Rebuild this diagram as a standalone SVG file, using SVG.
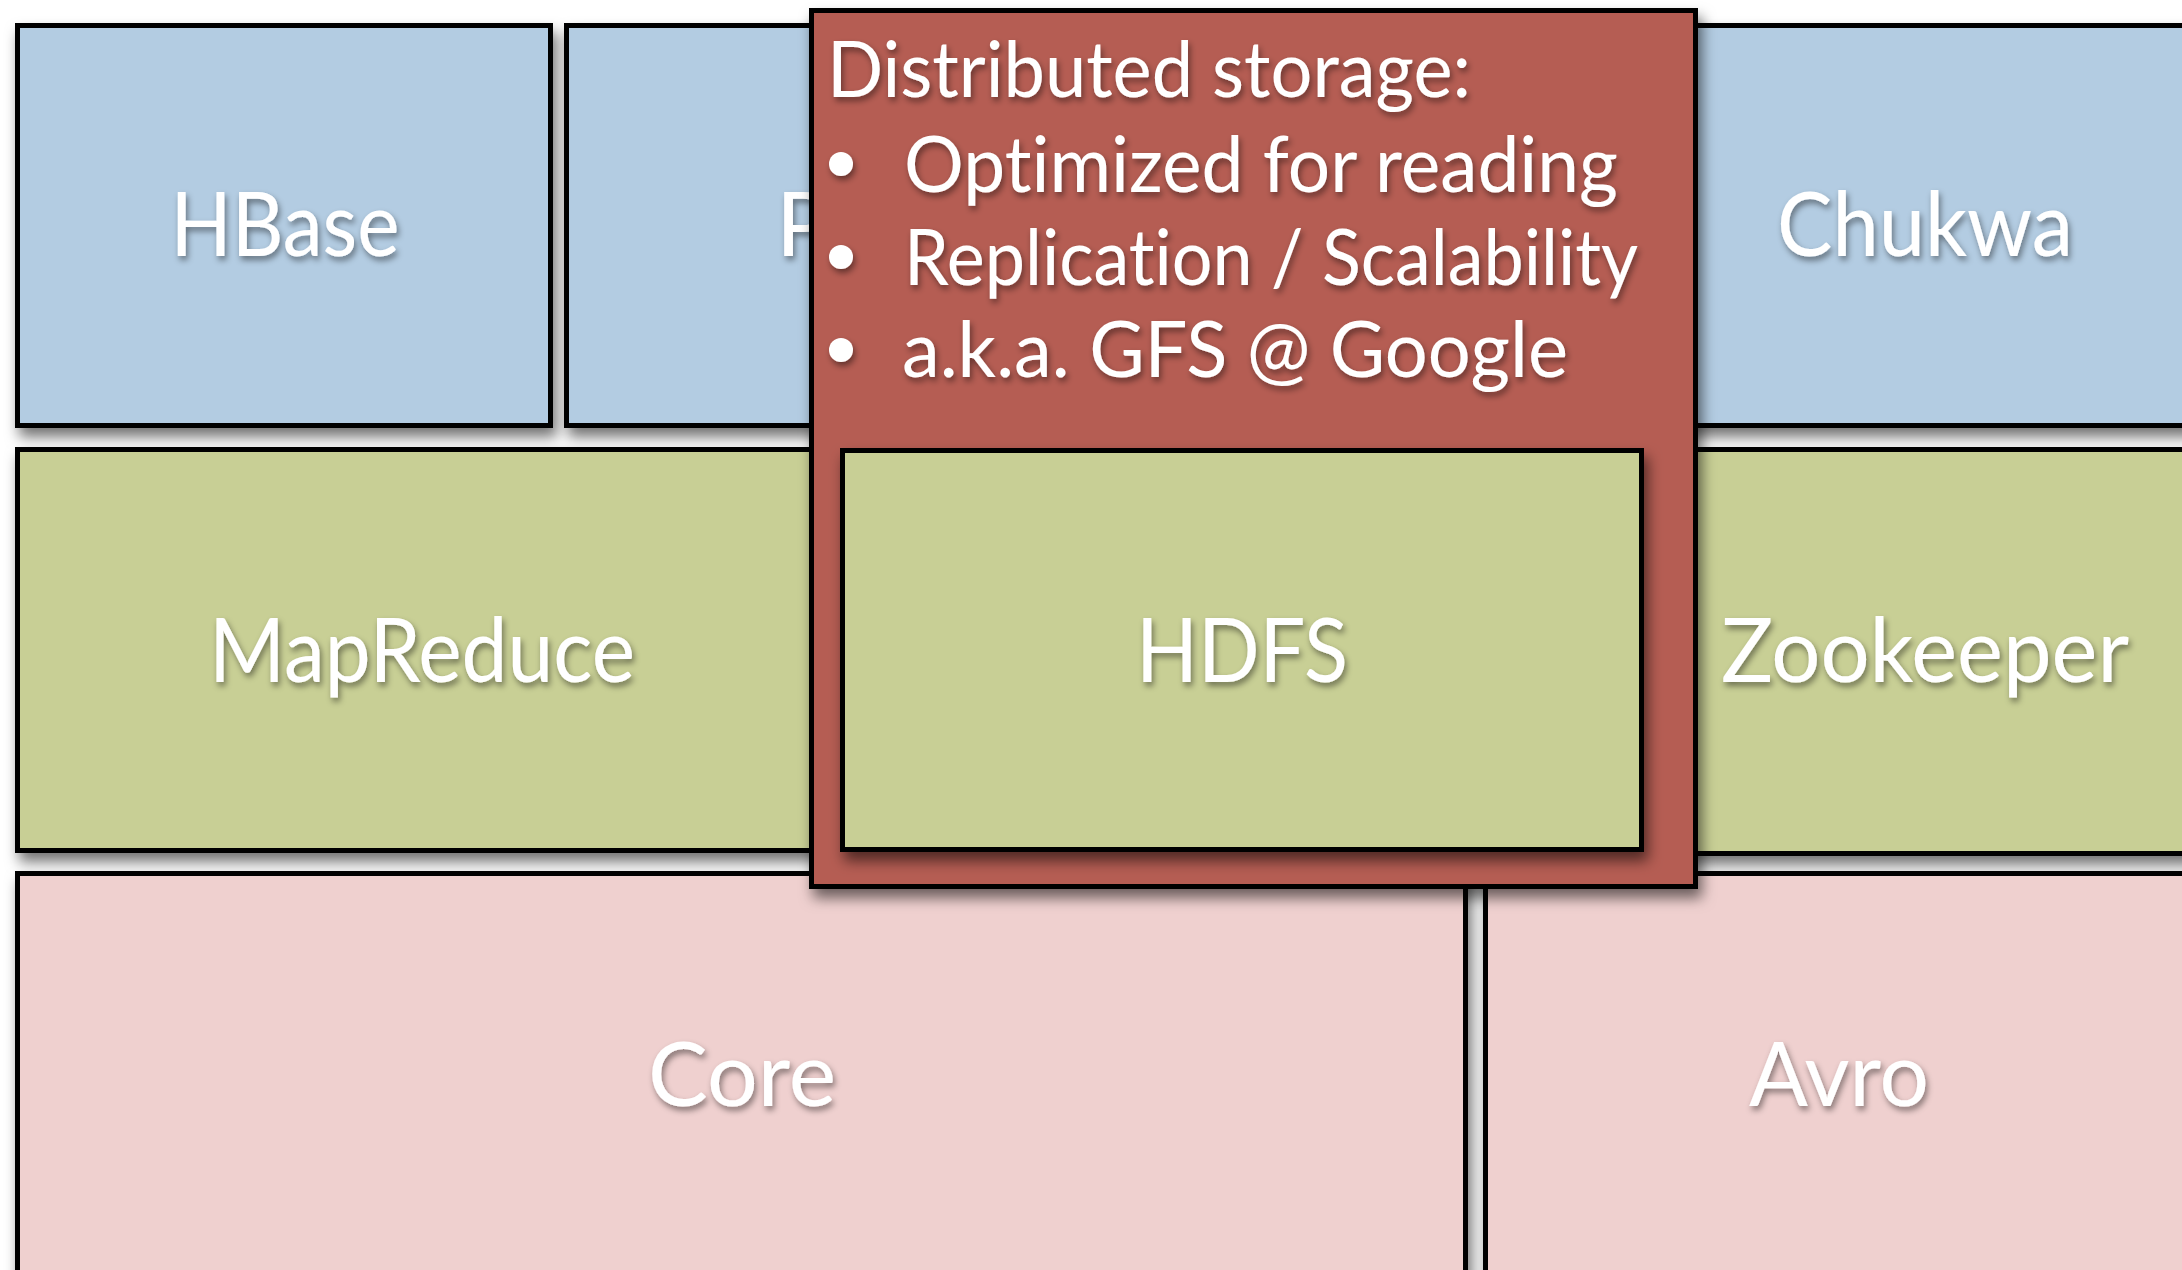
<svg xmlns="http://www.w3.org/2000/svg" width="2182" height="1270" viewBox="0 0 2182 1270">
<defs>
<filter id="boxShadow" x="-10%" y="-10%" width="130%" height="130%">
<feDropShadow dx="4" dy="9" stdDeviation="7" flood-color="#000" flood-opacity="0.55"/>
</filter>
<filter id="txtShadow" x="-10%" y="-20%" width="120%" height="150%">
<feDropShadow dx="2" dy="4" stdDeviation="3" flood-color="#000" flood-opacity="0.45"/>
</filter>
<style>
.box{stroke:#000;stroke-width:5}
.blue{fill:#b3cce2}
.green{fill:#c8cf95}
.pink{fill:#efd0cf}
.red{fill:#b55d52}
.lbl{font-family:Lato,"Liberation Sans",sans-serif;font-size:90px;fill:#fff;text-anchor:middle;font-variant-ligatures:none}
.note{font-family:Lato,"Liberation Sans",sans-serif;font-size:77px;fill:#fff;font-variant-ligatures:none}
</style>
</defs>
<rect width="2182" height="1270" fill="#fff"/>
<g id="connectors"/>
<g id="hbase" filter="url(#boxShadow)">
<rect class="box blue" x="17.5" y="25.5" width="533" height="400"/>
</g>
<g id="pig" filter="url(#boxShadow)">
<rect class="box blue" x="566.5" y="25.5" width="533" height="400"/>
</g>
<g id="chukwa" filter="url(#boxShadow)">
<rect class="box blue" x="1640.5" y="25.5" width="600" height="400"/>
</g>
<g id="mapreduce" filter="url(#boxShadow)">
<rect class="box green" x="17.5" y="449.5" width="810" height="401"/>
</g>
<g id="zookeeper" filter="url(#boxShadow)">
<rect class="box green" x="1640.5" y="449.5" width="600" height="404"/>
</g>
<g id="core" filter="url(#boxShadow)">
<rect class="box pink" x="17.5" y="873.5" width="1448" height="420"/>
</g>
<g id="avro" filter="url(#boxShadow)">
<rect class="box pink" x="1485.5" y="873.5" width="760" height="420"/>
</g>
<g filter="url(#txtShadow)">
<text class="lbl" x="285" y="256" textLength="229" lengthAdjust="spacingAndGlyphs">HBase</text>
<text class="lbl" x="776" y="256" style="text-anchor:start">Pig</text>
<text class="lbl" x="1925" y="256" textLength="296" lengthAdjust="spacingAndGlyphs">Chukwa</text>
<text class="lbl" x="422" y="682" textLength="426" lengthAdjust="spacingAndGlyphs">MapReduce</text>
<text class="lbl" x="1925" y="682" textLength="408" lengthAdjust="spacingAndGlyphs">Zookeeper</text>
<text class="lbl" x="742" y="1106" textLength="188" lengthAdjust="spacingAndGlyphs">Core</text>
<text class="lbl" x="1839" y="1106" textLength="180" lengthAdjust="spacingAndGlyphs">Avro</text>
</g>
<g id="hdfs-popup">
<rect class="box red" x="811.5" y="10.5" width="884" height="876" filter="url(#boxShadow)"/>
<g id="hdfs">
<rect class="box green" x="842.5" y="450.5" width="799" height="399" filter="url(#boxShadow)"/>
<text class="lbl" x="1242" y="682" textLength="212" lengthAdjust="spacingAndGlyphs" filter="url(#txtShadow)">HDFS</text>
</g>
<g filter="url(#txtShadow)">
<text class="note" x="827" y="97" textLength="644" lengthAdjust="spacingAndGlyphs">Distributed storage:</text>
<circle cx="841" cy="164" r="12" fill="#fff"/>
<circle cx="841" cy="257" r="12" fill="#fff"/>
<circle cx="841" cy="350" r="12" fill="#fff"/>
<text class="note" x="904" y="192" textLength="714" lengthAdjust="spacingAndGlyphs">Optimized for reading</text>
<text class="note" x="904" y="285" textLength="734" lengthAdjust="spacingAndGlyphs">Replication / Scalability</text>
<text class="note" x="902" y="377" textLength="666" lengthAdjust="spacingAndGlyphs">a.k.a. GFS @ Google</text>
</g>
</g>
</svg>
